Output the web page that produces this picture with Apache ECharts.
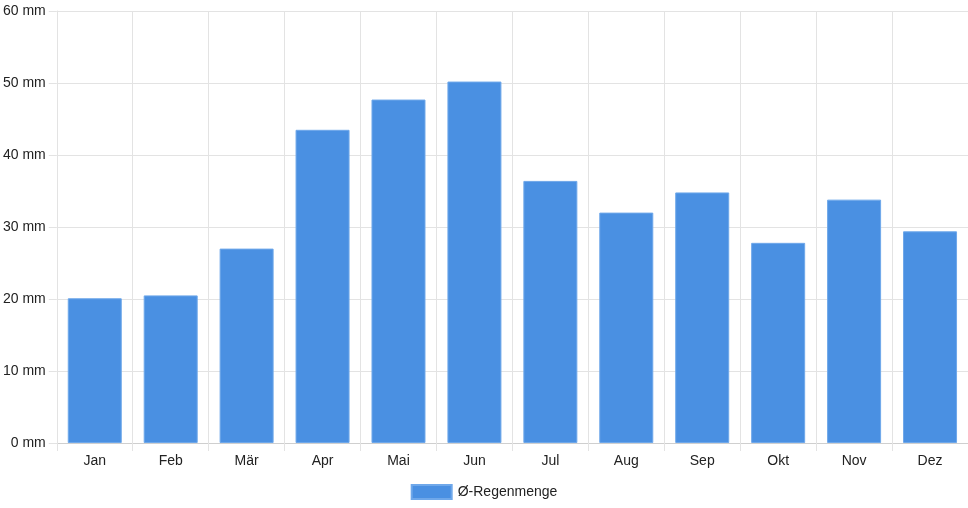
<!DOCTYPE html>
<html>
<head>
<meta charset="utf-8">
<script src="https://cdn.jsdelivr.net/npm/echarts@6/dist/echarts.min.js"></script>
<style>
  html, body { margin: 0; padding: 0; background: #fff; }
  #main { width: 968px; height: 508px; }
</style>
</head>
<body>
<div id="main"></div>
<script>
const months = ['Jan', 'Feb', 'Mär', 'Apr', 'Mai', 'Jun', 'Jul', 'Aug', 'Sep', 'Okt', 'Nov', 'Dez'];
const rainfall = [20.1, 20.5, 27.0, 43.5, 47.7, 50.2, 36.4, 32.0, 34.8, 27.8, 33.8, 29.4];
const seriesName = 'Ø-Regenmenge';

const chart = echarts.init(document.getElementById('main'));
const gridColor = '#e3e3e3';
const textColor = '#222';

chart.setOption({
    animation: false,
    textStyle: { fontFamily: 'Liberation Sans, Arial, sans-serif' },
    grid: { left: 56, right: 0, top: 11, bottom: 65 },
    legend: {
        top: 479,
        left: 'center',
        icon: 'rect',
        itemWidth: 40,
        itemHeight: 14,
        textStyle: { color: textColor, fontSize: 14, padding: [0, 0, 0, 1] },
        data: [seriesName]
    },
    xAxis: {
        type: 'category',
        data: months,
        boundaryGap: true,
        axisLine: { lineStyle: { color: '#cfcfcf' } },
        axisTick: { show: true, length: 8, lineStyle: { color: gridColor } },
        axisLabel: { color: textColor, fontSize: 14, margin: 11 },
        splitLine: { show: true, lineStyle: { color: gridColor } }
    },
    yAxis: {
        type: 'value',
        min: 0,
        max: 60,
        interval: 10,
        axisLine: { show: true, lineStyle: { color: gridColor } },
        axisTick: { show: true, length: 8, lineStyle: { color: gridColor } },
        axisLabel: { color: textColor, fontSize: 14, margin: 11, formatter: '{value} mm' },
        splitLine: { show: true, lineStyle: { color: gridColor } }
    },
    series: [{
        name: seriesName,
        type: 'bar',
        data: rainfall,
        barWidth: 54,
        itemStyle: {
            color: '#4a90e2',
            borderColor: '#6fa8ea',
            borderWidth: 1
        }
    }]
});
</script>
</body>
</html>
